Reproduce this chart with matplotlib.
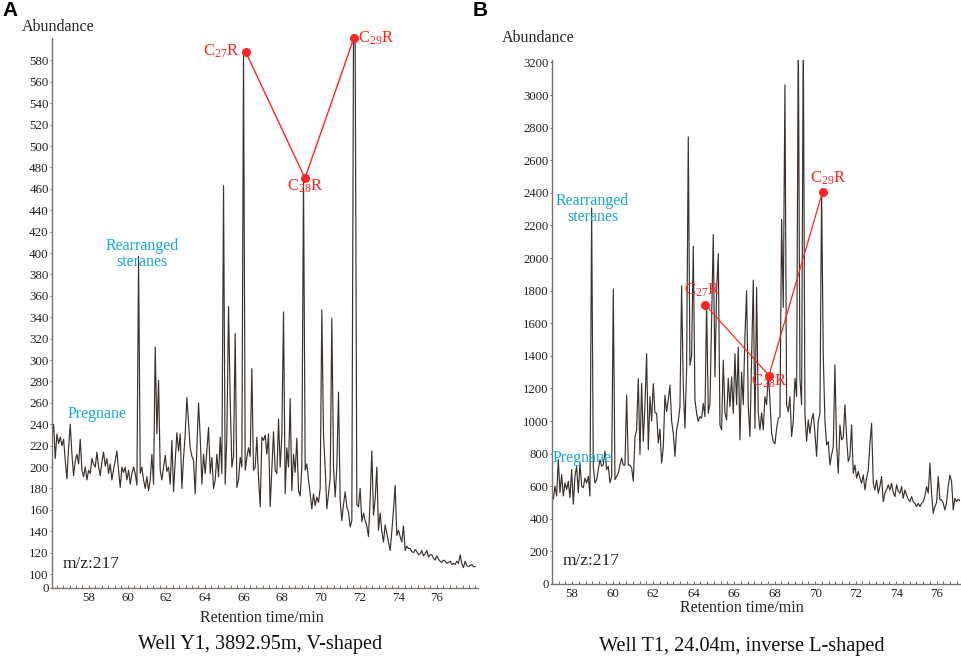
import numpy as np
import matplotlib
matplotlib.use("Agg")
import matplotlib.pyplot as plt
from matplotlib.ticker import MultipleLocator, FixedLocator

plt.rcParams['font.family'] = ['Liberation Serif', 'DejaVu Serif']
plt.rcParams['mathtext.fontset'] = 'stix'

# ---------------- data ----------------
# Panel A (Well Y1) sampled chromatogram, m/z 217
left_start, left_step = 56.0, 0.0862
left_abund = [
    225, 228, 240, 208, 231, 222, 228, 220, 226, 206, 189, 218, 240, 212, 192, 206,
    212, 203, 226, 197, 191, 200, 188, 197, 194, 208, 203, 200, 214, 200, 192, 205,
    214, 201, 208, 194, 203, 188, 198, 206, 215, 197, 181, 200, 195, 200, 188, 197,
    184, 194, 200, 194, 183, 397, 194, 200, 188, 180, 191, 178, 188, 212, 184, 312,
    231, 281, 197, 188, 200, 211, 196, 200, 184, 225, 177, 206, 232, 215, 231, 180,
    209, 231, 265, 242, 218, 210, 206, 175, 218, 260, 228, 184, 212, 194, 215, 237,
    194, 209, 180, 188, 212, 191, 228, 194, 463, 184, 230, 350, 262, 200, 210, 325,
    181, 188, 209, 200, 588, 197, 209, 218, 210, 292, 197, 200, 228, 190, 163, 228,
    225, 230, 212, 231, 163, 197, 233, 197, 194, 245, 200, 230, 345, 175, 218, 200,
    264, 178, 212, 195, 227, 178, 173, 200, 470, 197, 203, 188, 175, 161, 175, 164,
    172, 167, 180, 347, 230, 200, 161, 175, 190, 339, 200, 172, 200, 270, 169, 150,
    165, 177, 163, 158, 144, 150, 601, 598, 165, 163, 180, 149, 157, 150, 145, 135,
    170, 215, 155, 170, 200, 141, 157, 140, 130, 146, 138, 130, 122, 140, 160, 183,
    136, 141, 135, 130, 145, 122, 126, 124, 124, 121, 120, 123, 121, 118, 119, 122,
    117, 119, 122, 116, 118, 118, 115, 113, 117, 114, 112, 111, 113, 112, 110, 111,
    112, 109, 110, 109, 112, 110, 118, 110, 106, 112, 108, 107, 108, 109, 107, 107,
]
left_peak_names = ['C$_{27}$R', 'C$_{28}$R', 'C$_{29}$R']
left_peak_time = [66.11, 69.18, 71.71]
left_peak_abund = [588, 470, 601]
left_yticks = [0] + list(range(100, 600, 20))
left_xticks = list(range(58, 78, 2))

# Panel B (Well T1)
right_start, right_step = 56.992, 0.08226
right_abund = [
    540, 520, 600, 540, 763, 560, 672, 540, 621, 580, 630, 530, 702, 490, 662, 722,
    560, 743, 600, 590, 650, 620, 660, 540, 2307, 720, 620, 640, 702, 763, 722, 733,
    814, 702, 722, 621, 660, 1809, 641, 660, 680, 730, 773, 730, 730, 1159, 730, 730,
    712, 631, 900, 946, 1261, 794, 1230, 875, 1100, 1413, 824, 1149, 1000, 1230, 1050, 1047,
    865, 950, 743, 840, 1159, 1057, 1130, 1220, 1000, 925, 783, 946, 1000, 1088, 1829, 1210,
    956, 1322, 2743, 1342, 1400, 2073, 1130, 1047, 997, 1027, 1017, 1108, 1027, 1728, 1047, 1108,
    1637, 2144, 1271, 1800, 2026, 976, 946, 1373, 1050, 1007, 1262, 1088, 1271, 1047, 1413, 1100,
    1454, 885, 1300, 1100, 1525, 1799, 1088, 905, 1400, 1864, 956, 1819, 1047, 946, 1050, 946,
    1149, 1100, 1291, 1129, 925, 875, 860, 952, 1017, 1025, 2236, 1697, 3062, 1100, 1057, 1150,
    905, 1000, 1261, 1150, 3400, 1261, 1100, 3400, 1047, 875, 1007, 925, 1007, 1047, 925, 783,
    1000, 1047, 2418, 1400, 1000, 853, 874, 730, 792, 843, 1344, 850, 679, 976, 884, 900,
    1099, 900, 751, 782, 976, 679, 730, 649, 690, 650, 618, 669, 577, 649, 700, 863,
    986, 618, 577, 638, 557, 600, 659, 505, 557, 580, 608, 577, 618, 560, 536, 608,
    570, 557, 598, 526, 577, 546, 520, 505, 536, 505, 495, 475, 495, 475, 495, 505,
    540, 598, 557, 741, 557, 434, 475, 500, 659, 516, 516, 495, 454, 500, 600, 669,
    628, 454, 526, 505, 520, 510,
]
right_peak_names = ['C$_{27}$R', 'C$_{28}$R', 'C$_{29}$R']
right_peak_time = [64.58, 67.72, 70.37]
right_peak_abund = [1713, 1279, 2408]
right_yticks = list(range(0, 3201, 200))
right_xticks = list(range(58, 78, 2))

TRACE = '#3b322d'
SPINE = '#7d746e'
RED = '#ff2525'
CYAN = '#14a6dc'

W, H = 962, 659
fig = plt.figure(figsize=(W / 100, H / 100), dpi=100)


def px_axes(x0, y0, x1, y1):
    return fig.add_axes([x0 / W, 1 - y1 / H, (x1 - x0) / W, (y1 - y0) / H])


def ftext(x, y, s, **kw):
    fig.text(x / W, 1 - y / H, s, **kw)


def fwd(v):
    v = np.asarray(v, dtype=float)
    return np.where(v >= 100, v, 100 - (100 - v) * 0.13)


def inv(u):
    u = np.asarray(u, dtype=float)
    return np.where(u >= 100, u, 100 - (100 - u) / 0.13)


def style(ax, xticks, yticks, ysize):
    for s in ['top', 'right']:
        ax.spines[s].set_visible(False)
    for s in ['left', 'bottom']:
        ax.spines[s].set_color(SPINE)
        ax.spines[s].set_linewidth(1.0)
    ax.xaxis.set_major_locator(FixedLocator(xticks))
    ax.xaxis.set_minor_locator(MultipleLocator(1 / 3))
    ax.yaxis.set_major_locator(FixedLocator(yticks))
    ax.tick_params(axis='x', which='both', direction='in', length=2.5, width=0.8,
                   color=SPINE, labelsize=9.3, pad=3, labelcolor='#222222')
    ax.tick_params(axis='y', which='major', direction='out', length=1.8, width=0.8,
                   color=SPINE, labelsize=ysize, pad=0.5, labelcolor='#222222')
    ax.patch.set_alpha(0)


# ---------------- Panel A ----------------
axL = px_axes(52, 38, 478, 588)
lt = left_start + left_step * np.arange(len(left_abund))
axL.set_yscale('function', functions=(fwd, inv))
axL.plot(lt, left_abund, color=TRACE, lw=0.85)
axL.set_xlim(56.09, 78.13)
axL.set_ylim(0, 601)
style(axL, left_xticks, left_yticks, 9.4)
axL.plot(left_peak_time, left_peak_abund, color=RED, lw=1.0, marker='o', ms=5.5,
         clip_on=False, zorder=5)
offsL = [((-6, 1), 'right'), ((0, -8), 'center'), ((4, 0), 'left')]
for name, t, v, (off, ha) in zip(left_peak_names, left_peak_time, left_peak_abund, offsL):
    axL.annotate(r'$\mathregular{' + name.replace('$', '') + '}$', xy=(t, v), xytext=off,
                 textcoords='offset pixels', ha=ha, va='center', color=RED, fontsize=12,
                 annotation_clip=False)

# ---------------- Panel B ----------------
axR = px_axes(552, 60, 960, 584)
rt = right_start + right_step * np.arange(len(right_abund))
axR.plot(rt, right_abund, color=TRACE, lw=0.85)
axR.set_xlim(57.01, 77.15)
axR.set_ylim(0, 3215)
style(axR, right_xticks, right_yticks, 9.2)
axR.plot(right_peak_time, right_peak_abund, color=RED, lw=0.9, marker='o', ms=5.5,
         clip_on=False, zorder=5)
offsR = [((-3, 15), 'center'), ((0, -6), 'center'), ((5, 13), 'center')]
for name, t, v, (off, ha) in zip(right_peak_names, right_peak_time, right_peak_abund, offsR):
    axR.annotate(r'$\mathregular{' + name.replace('$', '') + '}$', xy=(t, v), xytext=off,
                 textcoords='offset pixels', ha=ha, va='center', color=RED, fontsize=12,
                 annotation_clip=False)

# ---------------- texts ----------------
ftext(2, 10, 'A', fontsize=15, fontweight='bold', family=['Liberation Sans'], va='center', ha='left')
ftext(473, 10, 'B', fontsize=15, fontweight='bold', family=['Liberation Sans'], va='center', ha='left')
ftext(58.5, 27, 'Abundance', fontsize=11.5, ha='center', va='center', color='#222222')
ftext(538, 38, 'Abundance', fontsize=11.5, ha='center', va='center', color='#222222')

ftext(142.3, 246, 'Rearranged', fontsize=11.5, color=CYAN, ha='center', va='center')
ftext(142.3, 262.5, 'steranes', fontsize=11.5, color=CYAN, ha='center', va='center')
ftext(96.7, 413.5, 'Pregnane', fontsize=11.5, color=CYAN, ha='center', va='center')

ftext(592.7, 201, 'Rearranged', fontsize=11.5, color=CYAN, ha='center', va='center')
ftext(592.7, 217, 'steranes', fontsize=11.5, color=CYAN, ha='center', va='center')
ftext(581.7, 457.5, 'Pregnane', fontsize=11.5, color=CYAN, ha='center', va='center')

ftext(63, 564, 'm/z:217', fontsize=12.5, ha='left', va='center', color='#222222')
ftext(563, 561, 'm/z:217', fontsize=12.5, ha='left', va='center', color='#222222')

ftext(261.7, 618, 'Retention time/min', fontsize=11.5, ha='center', va='center', color='#222222')
ftext(742.3, 607.5, 'Retention time/min', fontsize=11.5, ha='center', va='center', color='#222222')

ftext(260, 645, 'Well Y1, 3892.95m, V-shaped', fontsize=14.6, ha='center', va='center', color='#111111')
ftext(742, 646, 'Well T1, 24.04m, inverse L-shaped', fontsize=14.6, ha='center', va='center', color='#111111')

fig.savefig('out.png', dpi=100)
